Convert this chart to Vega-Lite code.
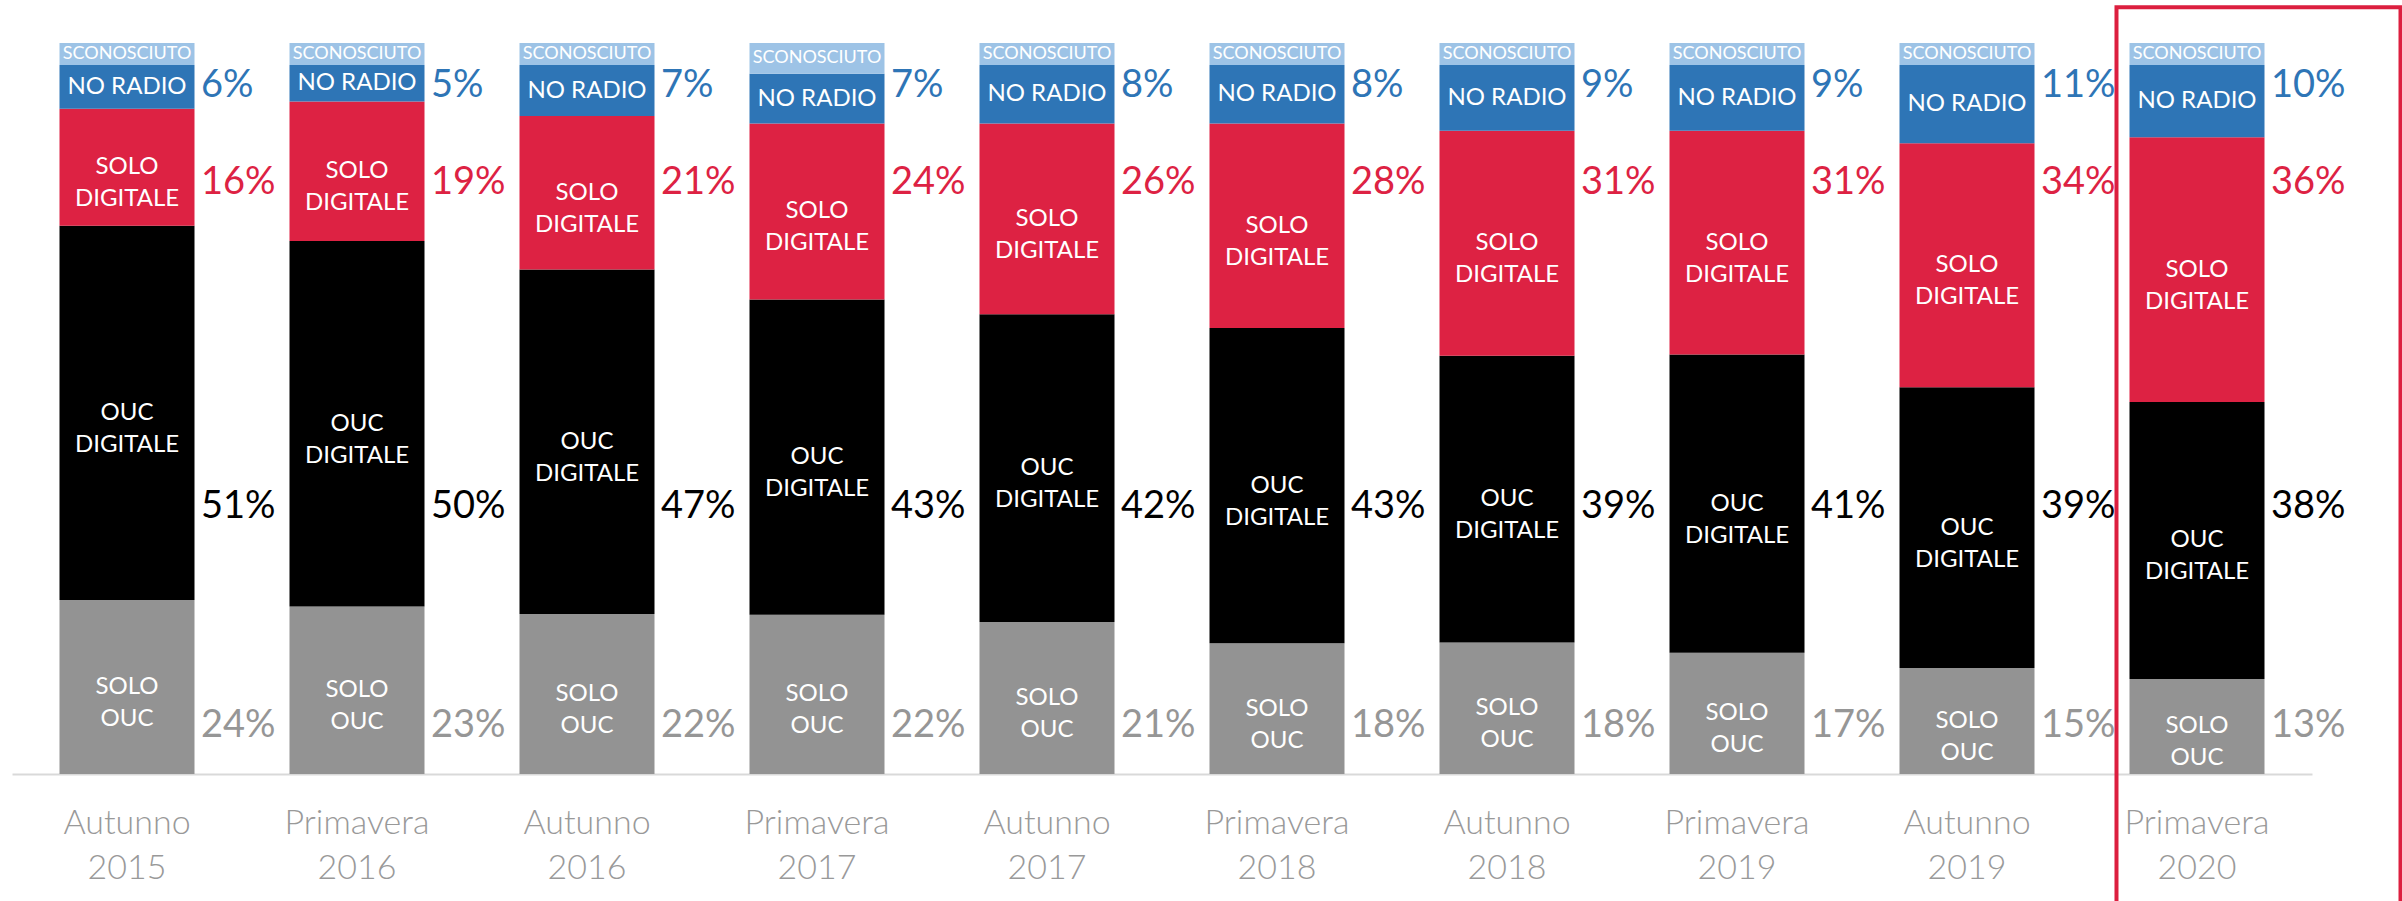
{
  "$schema": "https://vega.github.io/schema/vega-lite/v6.json",
  "width": 2300,
  "height": 731,
  "autosize": "none",
  "padding": {"left": 12, "top": 43, "right": 90, "bottom": 127},
  "background": "white",
  "config": {"view": {"stroke": null}, "font": "Lato"},
  "data": {"values": [
    {"period": "Autunno 2015", "cat": "SOLO OUC", "value": 23.8, "pct": "24%"},
    {"period": "Autunno 2015", "cat": "OUC DIGITALE", "value": 51.2, "pct": "51%"},
    {"period": "Autunno 2015", "cat": "SOLO DIGITALE", "value": 16.0, "pct": "16%"},
    {"period": "Autunno 2015", "cat": "NO RADIO", "value": 6.0, "pct": "6%"},
    {"period": "Autunno 2015", "cat": "SCONOSCIUTO", "value": 3.0, "pct": ""},
    {"period": "Primavera 2016", "cat": "SOLO OUC", "value": 22.9, "pct": "23%"},
    {"period": "Primavera 2016", "cat": "OUC DIGITALE", "value": 50.0, "pct": "50%"},
    {"period": "Primavera 2016", "cat": "SOLO DIGITALE", "value": 19.1, "pct": "19%"},
    {"period": "Primavera 2016", "cat": "NO RADIO", "value": 5.0, "pct": "5%"},
    {"period": "Primavera 2016", "cat": "SCONOSCIUTO", "value": 3.0, "pct": ""},
    {"period": "Autunno 2016", "cat": "SOLO OUC", "value": 21.9, "pct": "22%"},
    {"period": "Autunno 2016", "cat": "OUC DIGITALE", "value": 47.1, "pct": "47%"},
    {"period": "Autunno 2016", "cat": "SOLO DIGITALE", "value": 21.0, "pct": "21%"},
    {"period": "Autunno 2016", "cat": "NO RADIO", "value": 7.0, "pct": "7%"},
    {"period": "Autunno 2016", "cat": "SCONOSCIUTO", "value": 3.0, "pct": ""},
    {"period": "Primavera 2017", "cat": "SOLO OUC", "value": 21.8, "pct": "22%"},
    {"period": "Primavera 2017", "cat": "OUC DIGITALE", "value": 43.1, "pct": "43%"},
    {"period": "Primavera 2017", "cat": "SOLO DIGITALE", "value": 24.1, "pct": "24%"},
    {"period": "Primavera 2017", "cat": "NO RADIO", "value": 6.8, "pct": "7%"},
    {"period": "Primavera 2017", "cat": "SCONOSCIUTO", "value": 4.2, "pct": ""},
    {"period": "Autunno 2017", "cat": "SOLO OUC", "value": 20.8, "pct": "21%"},
    {"period": "Autunno 2017", "cat": "OUC DIGITALE", "value": 42.1, "pct": "42%"},
    {"period": "Autunno 2017", "cat": "SOLO DIGITALE", "value": 26.1, "pct": "26%"},
    {"period": "Autunno 2017", "cat": "NO RADIO", "value": 8.0, "pct": "8%"},
    {"period": "Autunno 2017", "cat": "SCONOSCIUTO", "value": 3.0, "pct": ""},
    {"period": "Primavera 2018", "cat": "SOLO OUC", "value": 17.9, "pct": "18%"},
    {"period": "Primavera 2018", "cat": "OUC DIGITALE", "value": 43.1, "pct": "43%"},
    {"period": "Primavera 2018", "cat": "SOLO DIGITALE", "value": 28.0, "pct": "28%"},
    {"period": "Primavera 2018", "cat": "NO RADIO", "value": 8.0, "pct": "8%"},
    {"period": "Primavera 2018", "cat": "SCONOSCIUTO", "value": 3.0, "pct": ""},
    {"period": "Autunno 2018", "cat": "SOLO OUC", "value": 18.0, "pct": "18%"},
    {"period": "Autunno 2018", "cat": "OUC DIGITALE", "value": 39.2, "pct": "39%"},
    {"period": "Autunno 2018", "cat": "SOLO DIGITALE", "value": 30.8, "pct": "31%"},
    {"period": "Autunno 2018", "cat": "NO RADIO", "value": 9.0, "pct": "9%"},
    {"period": "Autunno 2018", "cat": "SCONOSCIUTO", "value": 3.0, "pct": ""},
    {"period": "Primavera 2019", "cat": "SOLO OUC", "value": 16.6, "pct": "17%"},
    {"period": "Primavera 2019", "cat": "OUC DIGITALE", "value": 40.8, "pct": "41%"},
    {"period": "Primavera 2019", "cat": "SOLO DIGITALE", "value": 30.6, "pct": "31%"},
    {"period": "Primavera 2019", "cat": "NO RADIO", "value": 9.0, "pct": "9%"},
    {"period": "Primavera 2019", "cat": "SCONOSCIUTO", "value": 3.0, "pct": ""},
    {"period": "Autunno 2019", "cat": "SOLO OUC", "value": 14.5, "pct": "15%"},
    {"period": "Autunno 2019", "cat": "OUC DIGITALE", "value": 38.4, "pct": "39%"},
    {"period": "Autunno 2019", "cat": "SOLO DIGITALE", "value": 33.4, "pct": "34%"},
    {"period": "Autunno 2019", "cat": "NO RADIO", "value": 10.7, "pct": "11%"},
    {"period": "Autunno 2019", "cat": "SCONOSCIUTO", "value": 3.0, "pct": ""},
    {"period": "Primavera 2020", "cat": "SOLO OUC", "value": 13.0, "pct": "13%"},
    {"period": "Primavera 2020", "cat": "OUC DIGITALE", "value": 37.9, "pct": "38%"},
    {"period": "Primavera 2020", "cat": "SOLO DIGITALE", "value": 36.2, "pct": "36%"},
    {"period": "Primavera 2020", "cat": "NO RADIO", "value": 9.9, "pct": "10%"},
    {"period": "Primavera 2020", "cat": "SCONOSCIUTO", "value": 3.0, "pct": ""}
  ]},
  "transform": [
    {"calculate": "indexof(['SOLO OUC','OUC DIGITALE','SOLO DIGITALE','NO RADIO','SCONOSCIUTO'], datum.cat)", "as": "ord"},
    {"stack": "value", "groupby": ["period"], "sort": [{"field": "ord", "order": "ascending"}], "as": ["v0", "v1"]},
    {"calculate": "(datum.v0 + datum.v1) / 2", "as": "mid"},
    {"calculate": "datum.cat === 'NO RADIO' || datum.cat === 'SCONOSCIUTO' ? datum.cat : replace(datum.cat, ' ', '\\n')", "as": "inlabel"}
  ],
  "encoding": {
    "x": {
      "field": "period",
      "type": "nominal",
      "scale": {
        "domain": ["Autunno 2015", "Primavera 2016", "Autunno 2016", "Primavera 2017", "Autunno 2017", "Primavera 2018", "Autunno 2018", "Primavera 2019", "Autunno 2019", "Primavera 2020"],
        "paddingInner": 0.413,
        "paddingOuter": 0.2065
      },
      "axis": {
        "title": null,
        "labelAngle": 0,
        "labelExpr": "split(datum.label, ' ')",
        "labelFont": "Lato",
        "labelFontWeight": 300,
        "labelFontSize": 34,
        "labelLineHeight": 45,
        "labelColor": "#999999",
        "labelPadding": 32,
        "ticks": false,
        "grid": false,
        "domainColor": "#D9D9D9",
        "domainWidth": 2
      }
    }
  },
  "layer": [
    {
      "mark": {"type": "bar"},
      "encoding": {
        "y": {"field": "v0", "type": "quantitative", "scale": {"domain": [0, 100], "nice": false, "zero": true}, "axis": null},
        "y2": {"field": "v1"},
        "color": {
          "field": "cat",
          "type": "nominal",
          "scale": {
            "domain": ["SOLO OUC", "OUC DIGITALE", "SOLO DIGITALE", "NO RADIO", "SCONOSCIUTO"],
            "range": ["#939393", "#000000", "#DD2243", "#2E75B6", "#9DC3E6"]
          },
          "legend": null
        }
      }
    },
    {
      "transform": [{"filter": "datum.cat !== 'SCONOSCIUTO'"}],
      "mark": {"type": "text", "color": "white", "fontSize": 24, "lineBreak": "\n", "lineHeight": 32, "baseline": "middle", "align": "center"},
      "encoding": {
        "y": {"field": "mid", "type": "quantitative"},
        "text": {"field": "inlabel"}
      }
    },
    {
      "transform": [{"filter": "datum.cat === 'SCONOSCIUTO'"}],
      "mark": {"type": "text", "color": "white", "fontSize": 18, "baseline": "middle", "align": "center"},
      "encoding": {
        "y": {"field": "mid", "type": "quantitative"},
        "text": {"field": "inlabel"}
      }
    },
    {
      "transform": [{"filter": "datum.cat === 'NO RADIO'"}],
      "mark": {"type": "text", "color": "#2E75B6", "fontSize": 38, "baseline": "middle", "align": "left", "dx": 74},
      "encoding": {
        "y": {"datum": 94.1, "type": "quantitative"},
        "text": {"field": "pct"}
      }
    },
    {
      "transform": [{"filter": "datum.cat === 'SOLO DIGITALE'"}],
      "mark": {"type": "text", "color": "#DD2243", "fontSize": 38, "baseline": "middle", "align": "left", "dx": 74},
      "encoding": {
        "y": {"datum": 80.9, "type": "quantitative"},
        "text": {"field": "pct"}
      }
    },
    {
      "transform": [{"filter": "datum.cat === 'OUC DIGITALE'"}],
      "mark": {"type": "text", "color": "#000000", "fontSize": 38, "baseline": "middle", "align": "left", "dx": 74},
      "encoding": {
        "y": {"datum": 36.5, "type": "quantitative"},
        "text": {"field": "pct"}
      }
    },
    {
      "transform": [{"filter": "datum.cat === 'SOLO OUC'"}],
      "mark": {"type": "text", "color": "#969696", "fontSize": 38, "baseline": "middle", "align": "left", "dx": 74},
      "encoding": {
        "y": {"datum": 6.6, "type": "quantitative"},
        "text": {"field": "pct"}
      }
    },
    {
      "transform": [{"filter": "datum.cat === 'SCONOSCIUTO' && datum.period === 'Primavera 2020'"}],
      "mark": {"type": "rect", "filled": false, "stroke": "#DC1F3F", "strokeWidth": 4, "xOffset": -13, "x2Offset": 136},
      "encoding": {
        "x": {"field": "period", "type": "nominal", "bandPosition": 0},
        "x2": {"field": "period", "bandPosition": 1},
        "y": {"datum": 104.9, "type": "quantitative"},
        "y2": {"datum": -20}
      }
    }
  ]
}
